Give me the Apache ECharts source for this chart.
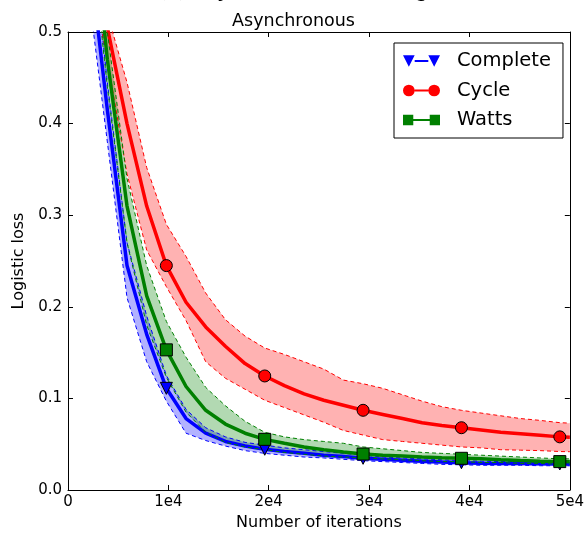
<!DOCTYPE html>
<html>
<head>
<meta charset="utf-8">
<script src="https://cdn.jsdelivr.net/npm/echarts@6/dist/echarts.min.js"></script>
<style>
  html, body { margin: 0; padding: 0; background: #fff; }
  #chart { width: 587px; height: 540px; }
</style>
</head>
<body>
<div id="chart"></div>
<script>
// iterations sampled every 1960 (last point at the axis end), markers every 9800
var iters = [1960, 3920, 5880, 7840, 9800, 11760, 13720, 15680, 17640, 19600,
    21560, 23520, 25480, 27440, 29400, 31360, 33320, 35280, 37240, 39200,
    41160, 43120, 45080, 47040, 49000, 50000];

var completeMean = [0.60, 0.415, 0.245, 0.170, 0.111, 0.078, 0.062, 0.053, 0.048, 0.0445,
    0.042, 0.040, 0.038, 0.0365, 0.0346, 0.0335, 0.0325, 0.0315, 0.0305, 0.0298,
    0.0293, 0.0290, 0.0288, 0.0286, 0.0284, 0.0283];
var completeLow = [0.55, 0.38, 0.21, 0.140, 0.097, 0.062, 0.054, 0.048, 0.043, 0.040,
    0.038, 0.036, 0.035, 0.0335, 0.032, 0.031, 0.030, 0.029, 0.028, 0.0275,
    0.027, 0.027, 0.027, 0.0265, 0.0265, 0.0264];
var completeHigh = [0.65, 0.445, 0.27, 0.190, 0.125, 0.088, 0.068, 0.058, 0.052, 0.049,
    0.046, 0.044, 0.042, 0.040, 0.038, 0.036, 0.035, 0.034, 0.033, 0.032,
    0.0315, 0.031, 0.031, 0.0305, 0.0303, 0.0302];

var cycleMean = [0.62, 0.505, 0.400, 0.310, 0.245, 0.205, 0.178, 0.157, 0.138, 0.1245,
    0.114, 0.105, 0.098, 0.0925, 0.087, 0.0825, 0.078, 0.0735, 0.0705, 0.068,
    0.0655, 0.063, 0.0615, 0.0598, 0.058, 0.0575];
var cycleLow = [0.58, 0.47, 0.345, 0.262, 0.222, 0.185, 0.140, 0.122, 0.110, 0.098,
    0.090, 0.082, 0.074, 0.065, 0.060, 0.055, 0.053, 0.051, 0.049, 0.047,
    0.046, 0.044, 0.0435, 0.043, 0.042, 0.0418];
var cycleHigh = [0.66, 0.52, 0.445, 0.352, 0.290, 0.255, 0.215, 0.186, 0.168, 0.155,
    0.148, 0.140, 0.132, 0.120, 0.116, 0.111, 0.104, 0.097, 0.091, 0.087,
    0.084, 0.081, 0.078, 0.076, 0.0735, 0.073];

var wattsMean = [0.68, 0.47, 0.310, 0.212, 0.153, 0.113, 0.087, 0.072, 0.062, 0.0553,
    0.051, 0.047, 0.044, 0.0415, 0.0393, 0.038, 0.037, 0.036, 0.0352, 0.0346,
    0.034, 0.033, 0.0322, 0.0315, 0.031, 0.0308];
var wattsLow = [0.64, 0.44, 0.27, 0.180, 0.123, 0.085, 0.063, 0.052, 0.047, 0.044,
    0.041, 0.039, 0.037, 0.036, 0.035, 0.034, 0.033, 0.032, 0.031, 0.031,
    0.030, 0.030, 0.029, 0.029, 0.028, 0.028];
var wattsHigh = [0.72, 0.50, 0.34, 0.245, 0.184, 0.145, 0.112, 0.092, 0.075, 0.063,
    0.058, 0.055, 0.053, 0.051, 0.047, 0.045, 0.043, 0.041, 0.040, 0.039,
    0.038, 0.037, 0.036, 0.035, 0.034, 0.034];

var xTickLabels = ['0', '1e4', '2e4', '3e4', '4e4', '5e4'];
var yTickLabels = ['0.0', '0.1', '0.2', '0.3', '0.4', '0.5'];

var markEvery = 9800;
var font = 'DejaVu Sans';

function pairs(ys) {
    return iters.map(function (x, i) { return [x, ys[i]]; });
}

// shaded band drawn as one polygon: upper edge forward, lower edge back
function bandSeries(name, fill, lo, hi) {
    return {
        name: name + ' band', type: 'custom', silent: true, clip: true,
        data: [0],
        renderItem: function (params, api) {
            var pts = [];
            for (var i = 0; i < iters.length; i++) pts.push(api.coord([iters[i], hi[i]]));
            for (var j = iters.length - 1; j >= 0; j--) pts.push(api.coord([iters[j], lo[j]]));
            return { type: 'polygon', shape: { points: pts }, style: { fill: fill } };
        }
    };
}

function edgeSeries(name, color, ys) {
    return {
        name: name, type: 'line', data: pairs(ys), symbol: 'none', silent: true,
        lineStyle: { color: color, width: 1, type: [4, 3] }
    };
}

function methodSeries(name, color, fill, symbol, mean, lo, hi) {
    return [
        bandSeries(name, fill, lo, hi),
        edgeSeries(name + ' low', color, lo),
        edgeSeries(name + ' high', color, hi),
        {
            name: name, type: 'line', data: pairs(mean),
            symbol: symbol,
            symbolSize: function (v) { return v[0] % markEvery === 0 ? 12 : 0; },
            showAllSymbol: true,
            lineStyle: { color: color, width: 3.5 },
            itemStyle: { color: color, borderColor: '#000', borderWidth: 1 }
        }
    ];
}

var triDown = 'path://M0 0 L12 0 L6 12 Z';
var iconTri = 'path://M0 0 L12 0 L6 12 Z M12 5 L26 5 L26 7 L12 7 Z M26 0 L38 0 L32 12 Z';
var iconCirc = 'path://M0 6 A6 6 0 1 1 12 6 A6 6 0 1 1 0 6 Z M12 5 L26 5 L26 7 L12 7 Z M26 6 A6 6 0 1 1 38 6 A6 6 0 1 1 26 6 Z';
var iconSq = 'path://M1 1 L11 1 L11 11 L1 11 Z M11 5 L27 5 L27 7 L11 7 Z M27 1 L37 1 L37 11 L27 11 Z';

var chart = echarts.init(document.getElementById('chart'), null, { renderer: 'canvas' });

var series = []
    .concat(methodSeries('Complete', '#0000ff', 'rgba(0,0,255,0.3)', triDown, completeMean, completeLow, completeHigh))
    .concat(methodSeries('Cycle', '#ff0000', 'rgba(255,0,0,0.3)', 'circle', cycleMean, cycleLow, cycleHigh))
    .concat(methodSeries('Watts', '#008000', 'rgba(0,128,0,0.3)', 'rect', wattsMean, wattsLow, wattsHigh));

var option = {
    backgroundColor: '#fff',
    animation: false,
    title: [
        {
            text: '(b) Asynchronous Training', left: 'center', top: -23,
            textStyle: { fontFamily: 'DejaVu Serif', fontSize: 20, fontWeight: 'normal', color: '#000', lineHeight: 20 }
        },
        {
            text: 'Asynchronous', left: 'center', top: 7,
            textStyle: { fontFamily: font, fontSize: 17.5, fontWeight: 'normal', color: '#000' }
        }
    ],
    legend: {
        data: [
            { name: 'Complete', icon: iconTri },
            { name: 'Cycle', icon: iconCirc },
            { name: 'Watts', icon: iconSq }
        ],
        orient: 'vertical',
        left: 394, top: 43,
        itemWidth: 37, itemHeight: 13, itemGap: 9.5,
        padding: [8, 12, 8, 9],
        borderColor: '#000', borderWidth: 1, borderRadius: 0,
        backgroundColor: '#fff',
        itemStyle: { borderWidth: 0 },
        textStyle: { fontFamily: font, fontSize: 19.5, color: '#000', padding: [0, 0, 0, 12] }
    },
    grid: { left: 68, right: 14, top: 32, bottom: 50 },
    xAxis: [
        {
            type: 'value', min: 0, max: 50000, interval: 10000,
            name: 'Number of iterations', nameLocation: 'middle', nameGap: 25,
            nameTextStyle: { fontFamily: font, fontSize: 16, color: '#000' },
            axisLine: { show: true, onZero: false, lineStyle: { color: '#000', width: 1 } },
            axisTick: { show: true, inside: true, length: 5, lineStyle: { color: '#000' } },
            axisLabel: {
                fontFamily: font, fontSize: 15, color: '#000', margin: 5,
                formatter: function (v) { return xTickLabels[Math.round(v / 10000)]; }
            },
            splitLine: { show: false }
        },
        {
            type: 'value', min: 0, max: 50000, interval: 10000, position: 'top',
            axisLine: { show: true, onZero: false, lineStyle: { color: '#000', width: 1 } },
            axisTick: { show: true, inside: true, length: 5, lineStyle: { color: '#000' } },
            axisLabel: { show: false },
            splitLine: { show: false }
        }
    ],
    yAxis: [
        {
            type: 'value', min: 0, max: 0.5, interval: 0.1,
            name: 'Logistic loss', nameLocation: 'middle', nameGap: 38,
            nameTextStyle: { fontFamily: font, fontSize: 16, color: '#000' },
            axisLine: { show: true, onZero: false, lineStyle: { color: '#000', width: 1 } },
            axisTick: { show: true, inside: true, length: 5, lineStyle: { color: '#000' } },
            axisLabel: {
                fontFamily: font, fontSize: 15, color: '#000', margin: 6,
                formatter: function (v) { return yTickLabels[Math.round(v * 10)]; }
            },
            splitLine: { show: false }
        },
        {
            type: 'value', min: 0, max: 0.5, interval: 0.1, position: 'right',
            axisLine: { show: true, onZero: false, lineStyle: { color: '#000', width: 1 } },
            axisTick: { show: true, inside: true, length: 5, lineStyle: { color: '#000' } },
            axisLabel: { show: false },
            splitLine: { show: false }
        }
    ],
    series: series
};

chart.setOption(option);
</script>
</body>
</html>
